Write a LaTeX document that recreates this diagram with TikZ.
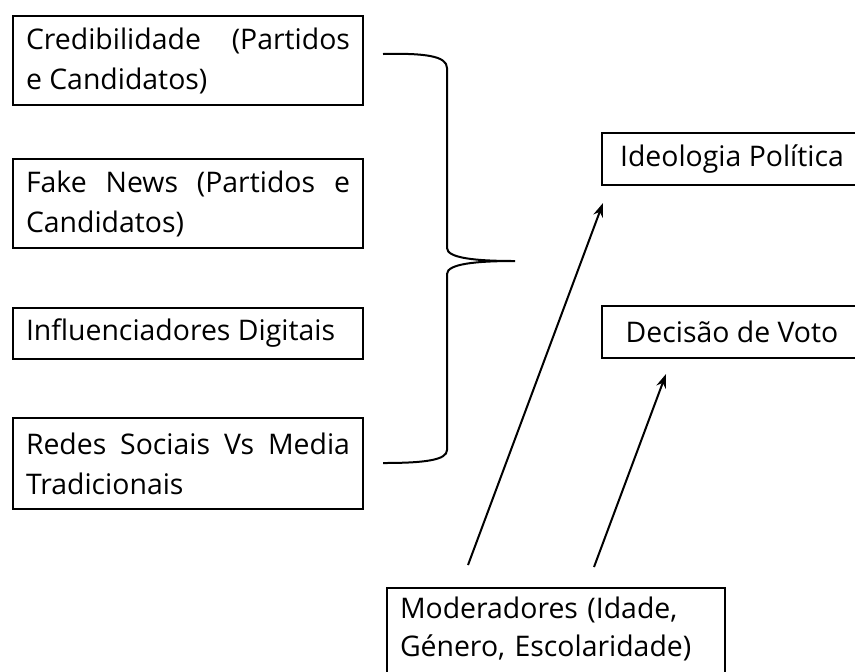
\documentclass[tikz,border=0pt]{standalone}
\usepackage{fontspec}
\setmainfont{Open Sans}
\usetikzlibrary{arrows.meta}

\def\boxfont{\fontsize{14.2}{20}\selectfont\hyphenpenalty=10000\exhyphenpenalty=10000}

\begin{document}
\begin{tikzpicture}[x=0.5pt,y=-0.5pt,line width=1pt]
    \tikzstyle{factor}=[draw,anchor=north west,inner xsep=6.5pt,inner ysep=0pt,font=\boxfont]
    \tikzstyle{left factor}=[factor,text width=162pt,align=justify]
    \tikzstyle{outcome}=[factor,minimum width=130pt,minimum height=26pt,align=center]
    \tikzstyle{moderator}=[factor,text width=156pt,align=left,inner ysep=4.5pt]
    \tikzstyle{link}=[-{Stealth[length=7pt,width=5pt]}]

    \clip (0,0) rectangle (855,671);
    \useasboundingbox (0,0) rectangle (855,671);

    % Draw the factor boxes on the left
    \foreach \name / \y / \h / \txt in {
        1/15/89/{Credibilidade (Partidos e~Candidatos)},
        2/158/89/{Fake News (Partidos e Candidatos)},
        3/307/51/{Influenciadores Digitais},
        4/417/91/{Redes Sociais Vs Media Tradicionais}}
        \node[left factor, minimum height=\h*0.5pt] (F-\name) at (12,\y) {\txt};

    % Draw the outcome boxes on the right
    \node[outcome] (ideo) at (601,132) {Ideologia Política};
    \node[outcome] (voto) at (601,305) {Decisão de Voto};

    % Draw the moderator box (its lower edge runs off the page)
    \node[moderator] (mod) at (386,587) {Moderadores (Idade,\\[-1pt]Género, Escolaridade)\\\mbox{}};

    % The brace grouping the factors
    \coordinate (tip) at (515,261);
    \draw (383,54) .. controls (425,53) and (447,56) .. (447,68)
        -- (447,248) .. controls (447,258) and (475,261) .. (tip)
        .. controls (475,261) and (447,264) .. (447,274)
        -- (447,450) .. controls (447,460) and (425,463) .. (383,463);

    % Connect the moderators with the outcomes
    \coordinate (m1) at (468,565);
    \coordinate (m2) at (594,567);
    \coordinate (i1) at (603,203);
    \coordinate (v1) at (666,374);
    \draw[link] (m1) -- (i1);
    \draw[link] (m2) -- (v1);
\end{tikzpicture}
\end{document}
